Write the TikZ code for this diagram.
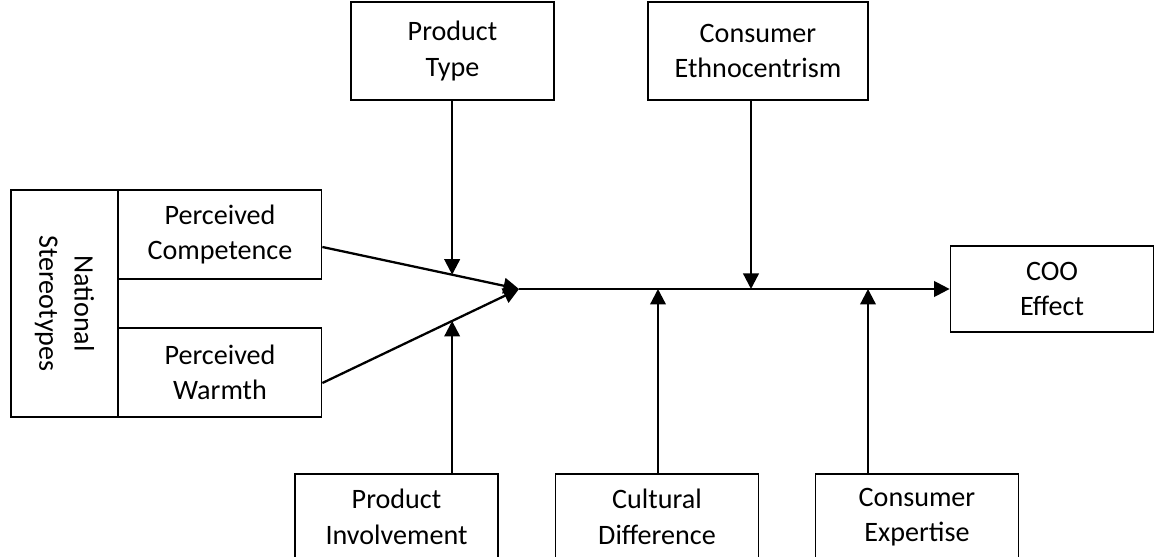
\documentclass[tikz,border=0pt]{standalone}
\usepackage{fontspec}
\setmainfont{Carlito}
\usepackage{tikz}
\usetikzlibrary{arrows.meta,positioning,calc}
\tikzset{
  >=Triangle,
  every node/.append style={font=\fontsize{16}{20}\selectfont},
}
\tikzset{
  box/.style={draw, line width=1pt, align=center, inner sep=0pt, minimum width=40.6mm, minimum height=19.6mm},
  arrow/.style={-{Triangle[length=3.1mm,width=3.1mm]}, line width=1.3pt}
}

\begin{document}
\begin{tikzpicture}[x=0.2mm, y=-0.2mm]
\useasboundingbox (0,0) rectangle (1155,557);

% top factors
\node[box] (ptype) at (452.5,51) {Product\\Type};
\node[box, minimum width=44mm] (ethno) at (758,51) {Consumer\\Ethnocentrism};

% national stereotypes
\node[box, minimum height=17.8mm] (comp) at (220,234.5) {Perceived\\Competence};
\node[box, minimum height=17.8mm] (warm) at (220,372.5) {Perceived\\Warmth};
\node[box, rotate=-90, minimum width=45.4mm, minimum height=21.4mm] (natl) at (64.5,303.5) {National\\Stereotypes};

% outcome
\node[box, minimum height=17.2mm] (coo) at (1052,289) {COO\\Effect};

% bottom factors
\node[box, anchor=north, minimum height=17.2mm] (invol) at (396.5,473) {Product\\Involvement};
\node[box, anchor=north, minimum height=17.2mm] (cult) at (657,473) {Cultural\\Difference};
\node[box, anchor=north, minimum height=17.2mm] (exper) at (917,473) {Consumer\\Expertise};

\coordinate (hub) at (519,289);
\coordinate (cout) at ([yshift=-2.5mm]comp.east);
\coordinate (wout) at ([yshift=-2.1mm]warm.east);
\coordinate (cpin) at ($(cout)!0.66!(hub)$);
\coordinate (wpin) at ($(wout)!0.66!(hub)$);
\coordinate (epin) at (751,289);
\coordinate (dpin) at (658,289);
\coordinate (xpin) at (868,289);

\draw[arrow] (cout) -- (hub);
\draw[arrow] (wout) -- (hub);
\draw[arrow] (hub) -- (coo);

\draw[arrow] (ptype.south -| cpin) -- (cpin);
\draw[arrow] (ethno.south -| epin) -- (epin);
\draw[arrow] (invol.north -| wpin) -- (wpin);
\draw[arrow] (cult.north -| dpin) -- (dpin);
\draw[arrow] (exper.north -| xpin) -- (xpin);
\end{tikzpicture}
\end{document}
